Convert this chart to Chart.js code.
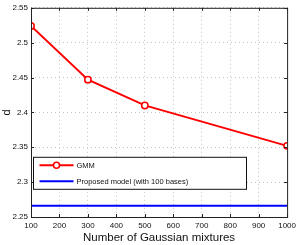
<!DOCTYPE html>
<html><head><meta charset="utf-8">
<script src="https://cdn.jsdelivr.net/npm/chart.js@4/dist/chart.umd.min.js"></script>
<style>html,body{margin:0;padding:0;background:#fff}#wrap{width:300px;height:245px}</style>
</head><body><div id="wrap"><canvas id="c" width="300" height="245"></canvas></div>
<script>
const mixtures = [100, 300, 500, 1000];
const gmmValues = [2.524, 2.447, 2.410, 2.352];
const proposedX = [100, 1000];
const proposedValues = [2.266, 2.266];
const seriesLabels = ['GMM', 'Proposed model (with 100 bases)'];
const xTitle = 'Number of Gaussian mixtures';
const yTitle = 'd';

const FONT = 'Liberation Sans, Arial, sans-serif';

const framePlugin = {
  id: 'frame',
  afterDraw(chart) {
    const {ctx, chartArea: a, scales} = chart;
    ctx.save();
    ctx.strokeStyle = '#222';
    ctx.lineWidth = 1;
    ctx.strokeRect(a.left + 0.5, a.top + 0.5, a.right - a.left, a.bottom - a.top);
    ctx.beginPath();
    const L = 3;
    scales.x.ticks.forEach(t => {
      const x = Math.round(scales.x.getPixelForValue(t.value)) + 0.5;
      ctx.moveTo(x, a.bottom); ctx.lineTo(x, a.bottom - L);
      ctx.moveTo(x, a.top); ctx.lineTo(x, a.top + L);
    });
    scales.y.ticks.forEach(t => {
      const y = Math.round(scales.y.getPixelForValue(t.value)) + 0.5;
      ctx.moveTo(a.left, y); ctx.lineTo(a.left + L, y);
      ctx.moveTo(a.right, y); ctx.lineTo(a.right - L, y);
    });
    ctx.stroke();
    // legend
    const bx = a.left + 2.5, by = a.top + 149.5, bw = 213, bh = 32;
    ctx.fillStyle = '#fff';
    ctx.fillRect(bx, by, bw, bh);
    ctx.strokeStyle = '#111';
    ctx.strokeRect(bx, by, bw, bh);
    ctx.font = '7.5px ' + FONT;
    ctx.textBaseline = 'middle';
    chart.data.datasets.forEach((ds, i) => {
      const y = by + 8 + i * 16;
      ctx.strokeStyle = ds.borderColor;
      ctx.lineWidth = 2;
      ctx.beginPath(); ctx.moveTo(bx + 6, y); ctx.lineTo(bx + 40, y); ctx.stroke();
      if (ds.pointRadius > 0) {
        ctx.lineWidth = 1.5;
        ctx.fillStyle = '#fff';
        ctx.beginPath(); ctx.arc(bx + 23, y, 3, 0, Math.PI * 2); ctx.fill(); ctx.stroke();
      }
      ctx.fillStyle = '#111';
      ctx.fillText(ds.label, bx + 43, y + 0.5);
    });
    ctx.restore();
  }
};

new Chart(document.getElementById('c'), {
  type: 'line',
  data: {
    datasets: [
      {
        label: seriesLabels[0],
        data: mixtures.map((m, i) => ({x: m, y: gmmValues[i]})),
        borderColor: '#ff0000', borderWidth: 2,
        pointRadius: 3.2, pointBorderWidth: 1.5,
        pointBackgroundColor: '#fff', pointBorderColor: '#ff0000',
        tension: 0
      },
      {
        label: seriesLabels[1],
        data: proposedX.map((m, i) => ({x: m, y: proposedValues[i]})),
        borderColor: '#0000ff', borderWidth: 2,
        pointRadius: 0, tension: 0
      }
    ]
  },
  options: {
    responsive: false, animation: false,
    layout: {padding: {left: 0, right: 7, top: 4, bottom: 0}},
    plugins: {legend: {display: false}, tooltip: {enabled: false}},
    scales: {
      x: {
        type: 'linear', min: 100, max: 1000,
        ticks: {stepSize: 100, font: {family: FONT, size: 8}, color: '#111', padding: 4, maxRotation: 0, autoSkip: false,
          callback: v => String(v)},
        grid: {color: '#c4c4c4', drawTicks: false, lineWidth: 1},
        border: {display: false, dash: [1, 3]},
        title: {display: true, text: xTitle, font: {family: FONT, size: 11.5}, color: '#111', padding: 0},
        afterFit(s) { s.height = 28; }
      },
      y: {
        min: 2.25, max: 2.55,
        ticks: {stepSize: 0.05, font: {family: FONT, size: 8}, color: '#111', padding: 3,
          callback: v => String(Math.round(v * 100) / 100)},
        grid: {color: '#c4c4c4', drawTicks: false, lineWidth: 1},
        border: {display: false, dash: [1, 3]},
        title: {display: true, text: yTitle, font: {family: FONT, size: 11}, color: '#111', padding: 0},
        afterFit(s) { s.width = 31; }
      }
    }
  },
  plugins: [framePlugin]
});
</script></body></html>
